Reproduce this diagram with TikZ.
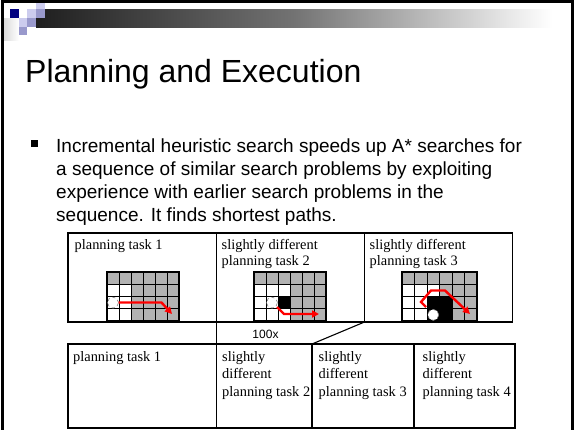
\documentclass[tikz,border=0pt]{standalone}
\usepackage{fontspec}
\setmainfont{Liberation Serif}
\newfontfamily\arialf{Liberation Sans}
\usetikzlibrary{arrows.meta}
\definecolor{navyc}{HTML}{000080}
\definecolor{lavl}{HTML}{CCCCEE}
\definecolor{lavm}{HTML}{9999CC}
\definecolor{cellgray}{HTML}{B2B2B2}
\tikzset{
  panel/.style={draw=black, line width=1.1pt, inner sep=0pt, outer sep=0pt, anchor=north west},
  boxtext/.style={font=\fontsize{14.4}{17}\selectfont, anchor=base west, inner sep=0pt},
  bullettext/.style={font=\arialf\fontsize{19}{23}\selectfont, anchor=base west, inner sep=0pt},
  redpath/.style={draw=red, line width=2.4pt, -{Triangle[length=7pt,width=7pt]}},
  gridline/.style={line width=0.9pt},
  startcirc/.style={draw=gray, dashed, fill=white, line width=0.6pt},
}
\begin{document}
\begin{tikzpicture}[x=1pt,y=-1pt]
\useasboundingbox (0,0) rectangle (575,429);
\fill[white] (0,0) rectangle (575,429);
% header decoration
\shade[left color=black!88, right color=white, middle color=black!55] (36,9) rectangle (552,27);
\shade[left color=gray!30, right color=white] (3,18) rectangle (19,40);
\fill[navyc] (10,9) rectangle (19,18);
\fill[lavl] (36,3) rectangle (45,9);
\fill[lavm] (36,9) rectangle (45,18);
\fill[lavl] (27,9) rectangle (36,18);
\fill[lavl] (19,18) rectangle (27,27);
\fill[lavm] (27,18) rectangle (36,27);
\fill[lavm] (19,27) rectangle (27,35);
% frame
\draw[line width=3pt] (2,1.5) rectangle (572,450);
% title
\node[font=\arialf\fontsize{32}{38}\selectfont, anchor=base west, inner sep=0pt] (title) at (25,82) {Planning and Execution};
% bullet
\fill (31,139.5) rectangle (38,146.5);
\node[bullettext] (l1) at (56,152.5) {Incremental heuristic search speeds up A* searches for};
\node[bullettext] (l2) at (56,175.5) {a sequence of similar search problems by exploiting};
\node[bullettext] (l3) at (56,198.5) {experience with earlier search problems in the};
\node[bullettext] (l4) at (56,221.5) {sequence. It finds shortest paths.};
% top panels
\node[panel, minimum width=148.5pt, minimum height=89pt] (t1) at (68,233) {};
\node[panel, minimum width=148pt, minimum height=89pt] (t2) at (216.5,233) {};
\node[panel, minimum width=148pt, minimum height=89pt] (t3) at (364.5,233) {};
\node[boxtext] (t1a) at (74.5,249) {planning task 1};
\node[boxtext] (t2a) at (221.5,249) {slightly different};
\node[boxtext] (t2b) at (221.5,265.5) {planning task 2};
\node[boxtext] (t3a) at (369.5,249) {slightly different};
\node[boxtext] (t3b) at (369.5,265.5) {planning task 3};
% grid 1
\begin{scope}[shift={(107,272)}, x=12pt, y=-12.25pt]
  \fill[cellgray] (0,0) rectangle (6,4);
  \fill[white] (0,1) rectangle (2,4);
  \foreach \i in {1,...,5} \draw[gridline] (\i,0) -- (\i,4);
  \foreach \j in {1,2,3} \draw[gridline] (0,\j) -- (6,\j);
  \draw[line width=2pt] (0,0) rectangle (6,4);
  \draw[startcirc] (0.5,2.5) circle [radius=5.5pt];
\end{scope}
\coordinate (r1a) at (118.5,302.5);
\coordinate (r1b) at (161.5,302.5);
\coordinate (r1c) at (172,314);
\draw[redpath] (r1a) -- (r1b) -- (r1c);
% grid 2
\begin{scope}[shift={(254,272)}, x=12pt, y=-12.25pt]
  \fill[cellgray] (0,0) rectangle (6,4);
  \fill[white] (0,1) rectangle (3,4);
  \fill[black] (2,2) rectangle (3,3);
  \foreach \i in {1,...,5} \draw[gridline] (\i,0) -- (\i,4);
  \foreach \j in {1,2,3} \draw[gridline] (0,\j) -- (6,\j);
  \draw[line width=2pt] (0,0) rectangle (6,4);
  \draw[startcirc] (1.5,2.5) circle [radius=5.5pt];
\end{scope}
\coordinate (r2a) at (277,307);
\coordinate (r2b) at (284,314);
\coordinate (r2c) at (319,314);
\draw[redpath] (r2a) -- (r2b) -- (r2c);
% grid 3
\begin{scope}[shift={(402,272)}, x=12.5pt, y=-12.25pt]
  \fill[cellgray] (0,0) rectangle (6,4);
  \fill[white] (0,1) rectangle (3,4);
  \fill[white] (0,2) rectangle (2,4);
  \foreach \i in {1,...,5} \draw[gridline] (\i,0) -- (\i,4);
  \foreach \j in {1,2,3} \draw[gridline] (0,\j) -- (6,\j);
  \fill[black] (2,2) rectangle (4,4);
  \draw[line width=2pt] (0,0) rectangle (6,4);
  \draw[startcirc] (2.5,3.5) circle [radius=5.5pt];
\end{scope}
\coordinate (r3a) at (426,307);
\coordinate (r3b) at (421,302);
\coordinate (r3c) at (431,290.5);
\coordinate (r3d) at (445,290.5);
\coordinate (r3e) at (470,314);
\draw[redpath] (r3a) -- (r3b) -- (r3c) -- (r3d) -- (r3e);
% bottom panels
\node[panel, minimum width=148.5pt, minimum height=84pt] (b1) at (68,344) {};
\node[panel, minimum width=95.5pt, minimum height=84pt] (b2) at (216.5,344) {};
\node[panel, minimum width=102pt, minimum height=84pt] (b3) at (312,344) {};
\node[panel, minimum width=101pt, minimum height=84pt] (b4) at (414,344) {};
\node[boxtext] (b1a) at (73,361) {planning task 1};
\node[boxtext] (b2a) at (222,361) {slightly};
\node[boxtext] (b2b) at (222,378.5) {different};
\node[boxtext] (b2c) at (222,396) {planning task 2};
\node[boxtext] (b3a) at (318.5,361) {slightly};
\node[boxtext] (b3b) at (318.5,378.5) {different};
\node[boxtext] (b3c) at (318.5,396) {planning task 3};
\node[boxtext] (b4a) at (422.5,361) {slightly};
\node[boxtext] (b4b) at (422.5,378.5) {different};
\node[boxtext] (b4c) at (422.5,396) {planning task 4};
% zoom connectors
\draw[line width=1.1pt] (t2.south west) -- (b2.north west);
\draw[line width=1.1pt] (t2.south east) -- (b2.north east);
\node[font=\arialf\fontsize{12}{14}\selectfont, anchor=base, inner sep=0pt] (zx) at (265.5,338) {100x};
\end{tikzpicture}
\end{document}
